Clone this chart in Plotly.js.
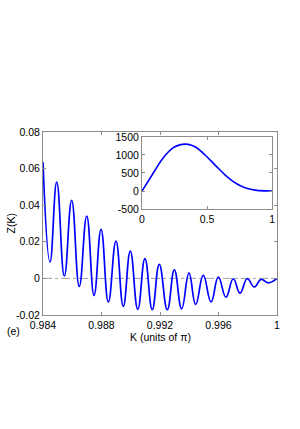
<!DOCTYPE html>
<html><head><meta charset="utf-8">
<script src="https://cdn.plot.ly/plotly-3.0.1.min.js"></script>
<style>html,body{margin:0;padding:0;background:#fff}#chart{width:300px;height:429px}</style>
</head><body><div id="chart"></div>
<script>
// main curve: read peaks/troughs
const mainK = [0.98400,0.98448,0.98494,0.98546,0.98596,0.98648,0.98699,0.98749,0.98797,0.98847,0.98899,0.98949,0.98997,0.99048,0.99097,0.99147,0.99195,0.99250,0.99298,0.99348,0.99398,0.99444,0.99496,0.99549,0.99599,0.99651,0.99701,0.99747,0.99797,0.99845,0.99891,0.99940,1.00000];
const mainZ = [0.0636,0.0089,0.0526,0.0013,0.0426,-0.0044,0.0340,-0.0093,0.0268,-0.0129,0.0204,-0.0153,0.0149,-0.0169,0.0108,-0.0171,0.0077,-0.0171,0.0047,-0.0166,0.0029,-0.0142,0.0016,-0.0129,0.0007,-0.0102,-0.0002,-0.0080,-0.0002,-0.0047,-0.0005,-0.0024,0.0000];
// inset curve
const insetK = [0,0.062,0.164,0.241,0.29,0.335,0.38,0.42,0.485,0.562,0.638,0.715,0.792,0.869,0.946,1];
const insetZ = [0,353,925,1203,1280,1300,1270,1200,1000,720,450,230,90,25,3,0];
const mainXTicks = [0.984,0.988,0.992,0.996,1];
const mainXLabels = ['0.984','0.988','0.992','0.996','1'];
const mainYTicks = [-0.02,0,0.02,0.04,0.06,0.08];
const mainYLabels = ['-0.02','0','0.02','0.04','0.06','0.08'];
const insetXTicks = [0,0.5,1];
const insetXLabels = ['0','0.5','1'];
const insetYTicks = [-500,0,500,1000,1500];
const insetYLabels = ['-500','0','500','1000','1500'];

const font = {family:'Liberation Sans, Arial, sans-serif', size:10.5, color:'#000'};
const axCommon = {showline:true, linecolor:'#8c8c8c', linewidth:1, mirror:'allticks', ticks:'inside', ticklen:3, tickcolor:'#8c8c8c', showgrid:false, zeroline:false, tickfont:font};

const traces = [
  {x:mainK, y:mainZ, type:'scatter', mode:'lines', line:{color:'#0000ff', width:1.7, shape:'spline', smoothing:1.3}, xaxis:'x', yaxis:'y', hoverinfo:'skip'},
  {x:insetK, y:insetZ, type:'scatter', mode:'lines', line:{color:'#0000ff', width:1.6, shape:'spline', smoothing:1}, xaxis:'x2', yaxis:'y2', hoverinfo:'skip'}
];
const layout = {
  width:300, height:429, showlegend:false,
  paper_bgcolor:'#fff', plot_bgcolor:'rgba(0,0,0,0)',
  margin:{l:43, r:23, t:132, b:114},
  font:font,
  xaxis:Object.assign({}, axCommon, {range:[0.984,1], tickvals:mainXTicks, ticktext:mainXLabels, domain:[0,1]}),
  yaxis:Object.assign({}, axCommon, {range:[-0.02,0.08], tickvals:mainYTicks, ticktext:mainYLabels, domain:[0,1]}),
  xaxis2:Object.assign({}, axCommon, {range:[0,1], tickvals:insetXTicks, ticktext:insetXLabels, domain:[0.423,0.979], anchor:'y2'}),
  yaxis2:Object.assign({}, axCommon, {range:[-500,1500], tickvals:insetYTicks, ticktext:insetYLabels, domain:[0.579,0.973], anchor:'x2'}),
  shapes:[
    {type:'line', xref:'x domain', yref:'y', x0:0, x1:1, y0:0, y1:0, line:{color:'#777', width:0.7, dash:'dashdot'}, layer:'below'},
    {type:'line', xref:'x2 domain', yref:'y2', x0:0, x1:1, y0:0, y1:0, line:{color:'#777', width:0.7, dash:'dashdot'}, layer:'below'},
    {type:'rect', xref:'x2 domain', yref:'y2 domain', x0:0, x1:1, y0:0, y1:1, fillcolor:'#fff', line:{width:0}, layer:'below'}
  ],
  annotations:[
    {text:'K (units of π)', xref:'paper', yref:'paper', x:0.5, y:-0.12, xanchor:'center', yanchor:'middle', showarrow:false, font:font},
    {text:'Z(K)', xref:'paper', yref:'paper', x:-0.141, y:0.5, textangle:-90, xanchor:'center', yanchor:'middle', showarrow:false, font:font},
    {text:'(e)', xref:'paper', yref:'paper', x:-0.124, y:-0.09, xanchor:'center', yanchor:'middle', showarrow:false, font:font}
  ]
};
Plotly.newPlot('chart', traces, layout, {displayModeBar:false, staticPlot:true});
</script></body></html>
